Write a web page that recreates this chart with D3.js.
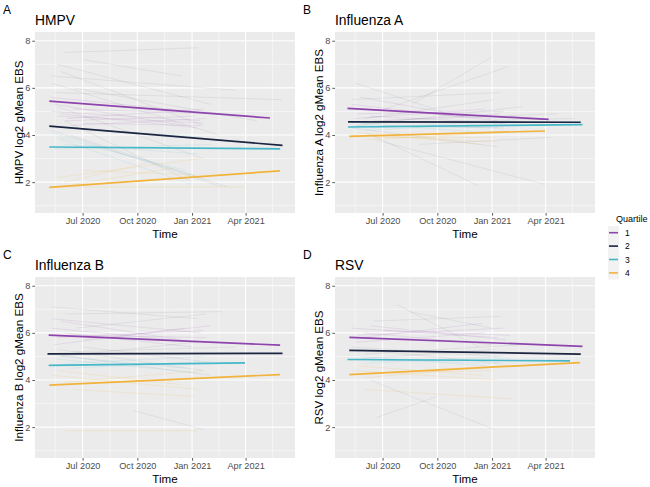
<!DOCTYPE html>
<html><head><meta charset="utf-8">
<script src="https://cdn.jsdelivr.net/npm/d3@7"></script>
<style>
html,body{margin:0;padding:0;background:#fff;}
text{font-family:"Liberation Sans",Arial,Helvetica,sans-serif;}
</style></head>
<body><svg id="chart" width="650" height="487"></svg>
<script>
// ---------- data ----------
const panelTags = ["A","B","C","D"];
const panelTitles = ["HMPV","Influenza A","Influenza B","RSV"];
const yTitles = ["HMPV log2 gMean EBS","Influenza A log2 gMean EBS","Influenza B log2 gMean EBS","RSV log2 gMean EBS"];
const quartiles = ["1","2","3","4"];
const quartileColors = ["#8E44AD","#1B2440","#45B7C8","#F2B33D"];
const yTicks = [2,4,6,8];
const xTickDates = ["2020-07-01","2020-10-01","2021-01-01","2021-04-01"];
const xTickLabels = ["Jul 2020","Oct 2020","Jan 2021","Apr 2021"];

// fitted trend lines per panel: [quartile, startDate, startValue, endDate, endValue]
const trendHMPV = [
  [1,"2020-05-06",5.44,"2021-05-12",4.72],
  [2,"2020-05-06",4.38,"2021-06-02",3.56],
  [3,"2020-05-06",3.49,"2021-05-29",3.41],
  [4,"2020-05-06",1.78,"2021-05-29",2.48]];
const trendFluA = [
  [1,"2020-05-03",5.13,"2021-04-06",4.66],
  [2,"2020-05-04",4.56,"2021-05-30",4.54],
  [3,"2020-05-04",4.34,"2021-06-02",4.44],
  [4,"2020-05-06",3.94,"2021-03-31",4.17]];
const trendFluB = [
  [1,"2020-05-05",5.90,"2021-05-29",5.48],
  [2,"2020-05-03",5.11,"2021-06-02",5.13],
  [3,"2020-05-05",4.62,"2021-03-31",4.73],
  [4,"2020-05-06",3.78,"2021-05-29",4.23]];
const trendRSV = [
  [1,"2020-05-06",5.81,"2021-06-02",5.43],
  [2,"2020-05-06",5.26,"2021-05-30",5.10],
  [3,"2020-05-03",4.87,"2021-05-12",4.81],
  [4,"2020-05-06",4.23,"2021-05-29",4.74]];

// individual subject lines (faint): [quartile, startDate, startValue, endDate, endValue]
const subjHMPV = [
  [1,"2020-05-10",5.0,"2021-01-15",4.6],[1,"2020-05-20",4.8,"2021-01-20",4.5],
  [1,"2020-06-01",4.6,"2021-01-05",4.8],[1,"2020-05-15",5.3,"2020-12-20",4.4],
  [1,"2020-06-10",4.4,"2021-01-25",4.7],[1,"2020-05-25",4.9,"2021-01-10",4.3],
  [1,"2020-06-15",5.1,"2021-02-01",4.9],[1,"2020-07-01",4.5,"2021-01-15",4.4],
  [1,"2020-05-08",5.6,"2021-01-01",5.0],[1,"2020-06-05",4.7,"2021-01-20",5.1],
  [2,"2020-06-01",7.5,"2021-01-10",7.7],[2,"2020-05-20",7.0,"2021-02-01",5.3],
  [2,"2020-05-10",6.5,"2021-03-15",5.9],[2,"2020-06-15",6.0,"2021-04-20",4.6],
  [2,"2020-05-15",5.8,"2021-06-01",5.5],[2,"2020-05-25",6.7,"2021-01-20",4.4],
  [2,"2020-07-01",7.2,"2020-12-15",6.5],[2,"2020-05-10",4.2,"2021-02-20",1.8],
  [2,"2020-06-01",4.6,"2021-01-01",2.0],[2,"2020-05-20",5.2,"2021-01-20",3.0],
  [2,"2020-06-10",4.0,"2021-03-01",1.8],[2,"2020-05-10",6.2,"2021-02-15",4.0],
  [3,"2020-05-10",4.1,"2021-01-15",2.2],[3,"2020-05-20",3.9,"2020-12-20",2.5],
  [3,"2020-06-01",3.6,"2021-01-10",3.2],[3,"2020-05-15",3.4,"2021-02-01",3.6],
  [3,"2020-06-15",4.3,"2021-01-20",3.9],[3,"2020-05-25",3.8,"2021-01-01",1.9],
  [4,"2020-05-10",1.8,"2021-04-01",1.8],[4,"2020-06-01",2.0,"2020-10-15",2.8],
  [4,"2020-05-20",2.2,"2021-01-15",3.0],[4,"2020-06-15",1.9,"2020-12-01",2.6],
  [4,"2020-07-01",2.5,"2021-01-10",2.3]];
const subjFluA = [
  [1,"2020-05-10",5.3,"2021-01-10",4.6],[1,"2020-05-20",4.9,"2021-01-20",5.0],
  [1,"2020-06-01",5.1,"2021-01-01",4.7],[1,"2020-05-15",4.7,"2020-12-20",5.1],
  [1,"2020-06-10",4.8,"2021-01-25",4.5],[1,"2020-05-25",5.6,"2020-11-15",4.8],
  [1,"2020-07-01",4.6,"2021-01-15",4.9],
  [2,"2020-06-04",4.1,"2020-12-09",1.85],[2,"2020-08-19",5.3,"2020-12-31",7.3],
  [2,"2020-06-24",5.0,"2021-01-28",6.9],[2,"2020-05-16",6.2,"2020-10-09",5.0],
  [2,"2020-06-18",3.8,"2021-03-31",1.9],[2,"2020-05-10",5.5,"2021-01-15",5.8],
  [2,"2020-06-01",4.7,"2021-01-05",5.5],[2,"2020-05-20",4.4,"2021-02-20",5.2],
  [2,"2020-06-15",4.6,"2021-04-20",4.9],[2,"2020-05-25",4.5,"2021-05-20",4.7],
  [2,"2020-07-01",4.4,"2021-01-20",4.3],[2,"2020-05-10",4.3,"2021-01-10",3.5],
  [2,"2020-09-01",3.6,"2021-04-10",3.9],
  [3,"2020-05-15",4.4,"2021-01-10",4.3],[3,"2020-06-01",4.2,"2021-01-20",4.5],
  [3,"2020-05-25",4.5,"2020-12-20",4.1],[3,"2020-06-10",4.3,"2021-02-01",4.6],
  [4,"2020-05-10",4.0,"2021-01-10",3.7],[4,"2020-06-01",3.8,"2021-01-20",4.1],
  [4,"2020-05-20",4.1,"2020-12-15",3.6],[4,"2020-06-15",3.9,"2021-01-05",3.9]];
const subjFluB = [
  [1,"2020-05-10",6.2,"2021-01-10",5.6],[1,"2020-05-20",5.8,"2021-01-20",6.1],
  [1,"2020-06-01",6.0,"2021-01-01",5.4],[1,"2020-05-15",5.5,"2020-12-20",6.2],
  [1,"2020-06-10",5.9,"2021-01-25",5.8],[1,"2020-05-25",6.5,"2020-12-15",5.7],
  [1,"2020-07-01",5.7,"2021-02-01",6.3],[1,"2020-05-10",6.6,"2021-01-15",6.0],
  [2,"2020-05-10",7.1,"2021-01-10",6.6],[2,"2020-06-01",6.8,"2021-02-20",6.9],
  [2,"2020-05-20",5.3,"2021-01-20",4.4],[2,"2020-06-15",5.2,"2021-03-15",5.4],
  [2,"2020-05-25",5.0,"2021-01-05",5.6],[2,"2020-07-01",5.4,"2021-01-15",4.8],
  [2,"2020-05-10",5.1,"2021-02-01",4.2],[2,"2020-06-20",6.2,"2021-01-25",6.8],
  [2,"2020-09-25",2.7,"2021-01-20",1.9],
  [3,"2020-05-15",4.9,"2021-01-10",4.3],[3,"2020-06-01",4.7,"2021-01-20",5.0],
  [3,"2020-05-25",5.0,"2020-12-20",4.5],[3,"2020-06-10",4.5,"2021-02-01",4.8],
  [4,"2020-05-10",4.2,"2021-01-10",3.6],[4,"2020-06-01",3.9,"2021-01-20",4.4],
  [4,"2020-05-20",4.4,"2020-12-15",3.8],[4,"2020-06-15",3.6,"2021-01-05",3.3],
  [4,"2020-06-01",1.85,"2021-01-10",1.85]];
const subjRSV = [
  [1,"2020-05-10",6.2,"2021-01-10",5.8],[1,"2020-05-20",5.9,"2021-01-20",6.2],
  [1,"2020-06-01",6.0,"2021-01-01",5.5],[1,"2020-05-15",5.6,"2020-12-20",6.0],
  [1,"2020-06-10",6.3,"2021-01-25",5.7],[1,"2020-05-25",5.8,"2020-12-15",6.4],
  [1,"2020-07-01",6.1,"2021-02-01",5.9],
  [2,"2020-07-25",7.2,"2020-12-10",5.4],[2,"2020-06-10",4.0,"2021-01-05",1.9],
  [2,"2020-06-20",2.4,"2020-10-01",3.3],[2,"2020-05-10",5.4,"2021-01-10",5.0],
  [2,"2020-06-01",5.1,"2021-02-20",5.5],[2,"2020-05-20",5.3,"2021-01-20",4.7],
  [2,"2020-06-15",6.5,"2021-01-15",6.7],[2,"2020-05-25",4.9,"2021-01-05",5.3],
  [2,"2020-08-15",6.9,"2021-01-01",6.2],
  [3,"2020-05-15",4.9,"2021-01-10",4.7],[3,"2020-06-01",4.7,"2021-01-20",5.0],
  [3,"2020-05-25",5.0,"2020-12-20",4.6],[3,"2020-06-10",4.8,"2021-02-01",4.9],
  [4,"2020-05-10",4.4,"2021-01-10",4.0],[4,"2020-06-01",4.1,"2021-01-20",4.6],
  [4,"2020-05-20",4.6,"2020-12-15",4.2],[4,"2020-06-15",4.3,"2021-01-05",4.4],
  [4,"2020-06-01",3.6,"2021-02-01",3.2]];

const trends = [trendHMPV, trendFluA, trendFluB, trendRSV];
const subjects = [subjHMPV, subjFluA, subjFluB, subjRSV];

// ---------- drawing ----------
const parse = d3.timeParse("%Y-%m-%d");
const svg = d3.select("#chart");
const W = 260, H = 181;
const origins = [[35,32],[335,32],[35,277],[335,277]];
const x = d3.scaleTime().domain([parse("2020-04-12"), parse("2021-06-23")]).range([0, W]);
const y = d3.scaleLinear().domain([0.69, 8.37]).range([H, 0]);
const color = d3.scaleOrdinal().domain([1,2,3,4]).range(quartileColors);
const faintOpacity = d3.scaleOrdinal().domain([1,2,3,4]).range([0.2,0.12,0.2,0.25]);
const xMinor = ["2020-05-16","2020-08-16","2020-11-16","2021-02-15","2021-05-16"].map(parse);
const yMinor = [1,3,5,7];
const line = d3.line().x(d => x(d[0])).y(d => y(d[1]));

panelTitles.forEach((title, i) => {
  const [ox, oy] = origins[i];
  const g = svg.append("g").attr("transform", `translate(${ox},${oy})`);
  g.append("rect").attr("width", W).attr("height", H).attr("fill", "#EBEBEB");
  g.selectAll(".xm").data(xMinor).enter().append("line")
    .attr("x1", d => x(d)).attr("x2", d => x(d)).attr("y1", 0).attr("y2", H)
    .attr("stroke", "#fff").attr("stroke-width", 0.5);
  g.selectAll(".ym").data(yMinor).enter().append("line")
    .attr("y1", d => y(d)).attr("y2", d => y(d)).attr("x1", 0).attr("x2", W)
    .attr("stroke", "#fff").attr("stroke-width", 0.5);
  g.selectAll(".xM").data(xTickDates.map(parse)).enter().append("line")
    .attr("x1", d => x(d)).attr("x2", d => x(d)).attr("y1", 0).attr("y2", H)
    .attr("stroke", "#fff").attr("stroke-width", 1.05);
  g.selectAll(".yM").data(yTicks).enter().append("line")
    .attr("y1", d => y(d)).attr("y2", d => y(d)).attr("x1", 0).attr("x2", W)
    .attr("stroke", "#fff").attr("stroke-width", 1.05);

  // faint subject lines
  g.selectAll(".subj").data(subjects[i]).enter().append("path")
    .attr("d", d => line([[parse(d[1]), d[2]], [parse(d[3]), d[4]]]))
    .attr("fill", "none").attr("stroke", d => color(d[0]))
    .attr("stroke-width", 0.6).attr("stroke-opacity", d => faintOpacity(d[0]));

  // trend lines
  g.selectAll(".trend").data(trends[i]).enter().append("path")
    .attr("d", d => line([[parse(d[1]), d[2]], [parse(d[3]), d[4]]]))
    .attr("fill", "none").attr("stroke", d => color(d[0]))
    .attr("stroke-width", 1.7);

  // axes
  const ax = g.append("g").attr("transform", `translate(0,${H})`)
    .call(d3.axisBottom(x).tickValues(xTickDates.map(parse))
      .tickFormat((d, k) => xTickLabels[k]).tickSize(2.7).tickPadding(2));
  const ay = g.append("g")
    .call(d3.axisLeft(y).tickValues(yTicks).tickSize(2.7).tickPadding(2));
  [ax, ay].forEach(a => {
    a.select(".domain").remove();
    a.selectAll("line").attr("stroke", "#333").attr("stroke-width", 0.8);
    a.selectAll("text").attr("fill", "#4D4D4D").style("font-size", "9.2px")
      .style("font-family", "'Liberation Sans',Arial,sans-serif");
  });

  // titles
  g.append("text").attr("x", W / 2).attr("y", H + 24.5).attr("text-anchor", "middle")
    .style("font-size", "11.6px").attr("fill", "#000").text("Time");
  g.append("text").attr("transform", `translate(${-12.5},${H / 2}) rotate(-90)`)
    .attr("text-anchor", "middle").style("font-size", "11.6px").attr("fill", "#000")
    .text(yTitles[i]);
  g.append("text").attr("x", 0).attr("y", -7).style("font-size", "13.8px")
    .attr("fill", "#000").text(title);
  g.append("text").attr("x", -32).attr("y", -18.5).style("font-size", "12px")
    .attr("fill", "#000").text(panelTags[i]);
});

// legend
const lg = svg.append("g").attr("transform", "translate(616,0)");
lg.append("text").attr("x", 0).attr("y", 221.5).style("font-size", "9px").attr("fill", "#000").text("Quartile");
const keyY = d3.scalePoint().domain(quartiles).range([232.7, 272.9]);
lg.append("rect").attr("x", -8).attr("y", 226).attr("width", 11).attr("height", 53.5).attr("fill", "#F2F2F2");
quartiles.forEach((q, k) => {
  lg.append("line").attr("x1", -7).attr("x2", 2).attr("y1", keyY(q)).attr("y2", keyY(q))
    .attr("stroke", quartileColors[k]).attr("stroke-width", 1.6);
  lg.append("text").attr("x", 9).attr("y", keyY(q) + 3).style("font-size", "8.5px")
    .attr("fill", "#000").text(q);
});
</script></body></html>
